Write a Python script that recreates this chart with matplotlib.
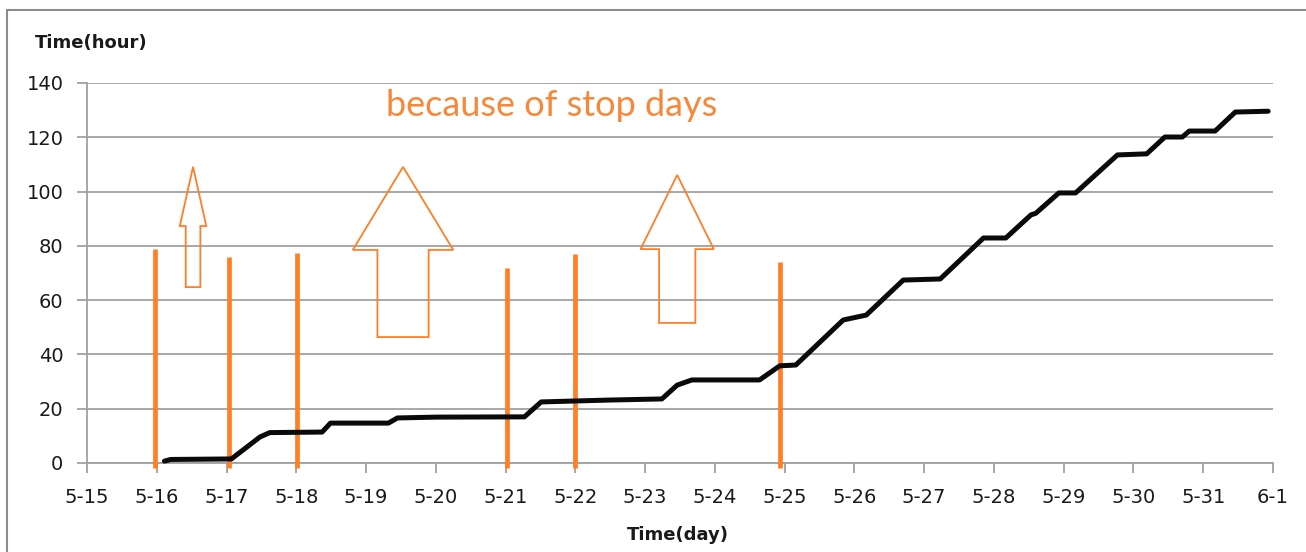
import matplotlib
matplotlib.use("Agg")
import matplotlib.pyplot as plt
from matplotlib.patches import Polygon, Rectangle

# x tick labels (day 0 = 5-15)
days = ["5-15", "5-16", "5-17", "5-18", "5-19", "5-20", "5-21", "5-22", "5-23",
        "5-24", "5-25", "5-26", "5-27", "5-28", "5-29", "5-30", "5-31", "6-1"]

# cumulative running time (hours) vs day
run_x = [1.11, 1.2, 2.07, 2.48, 2.62, 3.37, 3.49, 4.32, 4.45, 5.0, 6.27, 6.51,
         7.5, 8.24, 8.46, 8.67, 9.64, 9.93, 10.16, 10.84, 11.17, 11.7, 12.23,
         12.85, 13.17, 13.53, 13.6, 13.93, 14.17, 14.77, 15.19, 15.45, 15.7,
         15.8, 16.17, 16.46, 16.93]
run_y = [0.7, 1.3, 1.5, 9.6, 11.2, 11.4, 14.7, 14.7, 16.6, 16.9, 17.0, 22.5,
         23.2, 23.6, 28.7, 30.6, 30.6, 35.8, 36.1, 52.7, 54.5, 67.4, 67.8,
         82.9, 82.9, 91.4, 92.0, 99.5, 99.5, 113.5, 113.9, 120.1, 120.1,
         122.3, 122.3, 129.3, 129.6]

# orange marker lines
stop_x = [0.97, 2.03, 3.01, 6.02, 7.0, 9.93]
stop_top = [79, 76, 77.5, 72, 77, 74]

orange = "#FF7F27"

fig = plt.figure(figsize=(13.06, 5.52), dpi=100)
ax = fig.add_axes([87/1306, 1-463/552, (1273-87)/1306, (463-83)/552])

# outer frame
fig.patches.append(Rectangle((7/1306, -0.1), 1.2, 1 - 10/552 + 0.1, transform=fig.transFigure,
                             fill=False, edgecolor="#8c8c8c", linewidth=1.5))

ax.set_xlim(0, 17)
ax.set_ylim(0, 140)
ax.set_yticks(range(0, 141, 20))
ax.set_xticks(range(len(days)))
ax.set_xticklabels(days)
ax.grid(axis="y", color="#a0a0a0", linewidth=1.3)
ax.set_axisbelow(True)
for s in ["top", "right"]:
    ax.spines[s].set_visible(False)
for s in ["left", "bottom"]:
    ax.spines[s].set_color("#a0a0a0")
    ax.spines[s].set_linewidth(1.3)
ax.tick_params(length=7, width=1.3, color="#a0a0a0", labelsize=14, labelcolor="#1a1a1a", pad=10)
ax.tick_params(axis="x", pad=11)

ax.vlines(stop_x, -2, stop_top, colors=orange, linewidth=3.4, clip_on=False, zorder=3)
ax.plot(run_x, run_y, color="#0a0a0a", linewidth=3.6, solid_capstyle="round",
        solid_joinstyle="round", clip_on=False, zorder=4)

# hollow up-arrows: (center, bottom, head base, tip, shaft half width, head half width)
arrows = [(1.52, 64.8, 87.3, 109.1, 0.105, 0.19),
          (4.53, 46.4, 78.5, 109.1, 0.367, 0.72),
          (8.46, 51.6, 78.8, 106.1, 0.26, 0.525)]
for cx, b, hb, tip, sw, hw in arrows:
    pts = [(cx - sw, b), (cx + sw, b), (cx + sw, hb), (cx + hw, hb), (cx, tip),
           (cx - hw, hb), (cx - sw, hb)]
    ax.add_patch(Polygon(pts, closed=True, fill=False, edgecolor=orange, linewidth=1.3, zorder=5))

ax.text(386/1306, 1-105/552, "because of stop days", transform=fig.transFigure,
        fontsize=26, color="#F7883A", family="Lato", va="center", ha="left")
fig.text(91/1306, 1-43/552, "Time(hour)", fontsize=13, fontweight="bold", ha="center",
         va="center", color="#1a1a1a")
fig.text(678/1306, 1-535/552, "Time(day)", fontsize=13, fontweight="bold", ha="center",
         va="center", color="#1a1a1a")

fig.savefig("out.png", dpi=100)
